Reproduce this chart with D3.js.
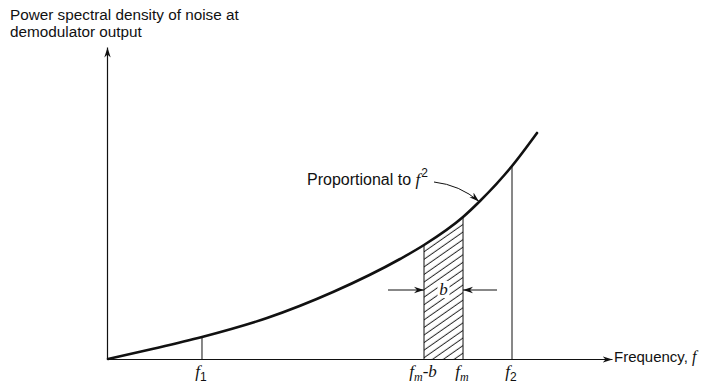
<!DOCTYPE html>
<html>
<head>
<meta charset="utf-8">
<script src="https://cdn.jsdelivr.net/npm/d3@7/dist/d3.min.js"></script>
<style>
  html, body { margin: 0; padding: 0; background: #fff; }
  svg { display: block; }
  .sans { font-family: "Liberation Sans", Arial, Helvetica, sans-serif; fill: #111; font-style: normal; }
  .math { font-family: "Liberation Serif", "Times New Roman", serif; font-style: italic; fill: #111; }
</style>
</head>
<body>
<svg id="chart" width="705" height="385"></svg>
<script>
// Noise power spectral density at the demodulator output (arbitrary units)
const freq = [0, 8.33, 18.65, 31.55, 44.64, 57.94, 62.7, 70.44, 73.81, 80.16, 85.12];
const psd  = [0, 3.04, 7.05, 13.14, 21.47, 32.05, 36.54, 45.51, 50.64, 61.86, 72.44];

// Marked frequencies on the horizontal axis
const markFreqs = [18.65, 62.7, 70.44, 80.16];
const markBase  = ["f", "f", "f", "f"];
const markSub   = ["1", "m", "m", "2"];
const markTail  = ["", "-b", "", ""];

// Shaded band from fm-b to fm
const bandStart = 62.7;
const bandEnd = 70.44;
const bandLabel = "b";

const yTitle = ["Power spectral density of noise at", "demodulator output"];
const xTitle = "Frequency, ";
const curveNote = "Proportional to ";
const notePoint = 73.81;

const svg = d3.select("#chart");
const ink = "#111";

const x = d3.scaleLinear().domain([0, 100]).range([108, 612]);
const y = d3.scaleLinear().domain([0, 100]).range([359, 47]);

const pts = freq.map((f, i) => ({ f, p: psd[i] }));
const psdAt = f => pts.find(d => d.f === f).p;

// Arrowhead marker
const defs = svg.append("defs");
defs.append("marker")
  .attr("id", "arrow")
  .attr("viewBox", "-10 -4 10 8")
  .attr("refX", 0).attr("refY", 0)
  .attr("markerWidth", 10).attr("markerHeight", 8)
  .attr("markerUnits", "userSpaceOnUse")
  .attr("orient", "auto")
  .append("path").attr("d", "M0,0L-10,-3.2L-7,0L-10,3.2Z").attr("fill", ink);

// Diagonal hatching
defs.append("pattern")
  .attr("id", "hatch")
  .attr("patternUnits", "userSpaceOnUse")
  .attr("width", 6.2).attr("height", 6.2)
  .attr("patternTransform", "rotate(-35)")
  .append("line")
  .attr("x1", 0).attr("y1", 3).attr("x2", 6.2).attr("y2", 3)
  .attr("stroke", ink).attr("stroke-width", 0.9);

defs.append("clipPath").attr("id", "band")
  .append("rect")
  .attr("x", x(bandStart)).attr("y", 0)
  .attr("width", x(bandEnd) - x(bandStart)).attr("height", 385);

const curve = d3.curveMonotoneX;

// Hatched band under the curve
svg.append("path")
  .datum(pts)
  .attr("clip-path", "url(#band)")
  .attr("fill", "url(#hatch)")
  .attr("d", d3.area().x(d => x(d.f)).y0(y(0)).y1(d => y(d.p)).curve(curve));

// Axes
const xAxis = svg.append("g")
  .attr("transform", `translate(0,${y(0)})`)
  .call(d3.axisBottom(x).tickValues([]).tickSizeOuter(0));
xAxis.select(".domain").attr("stroke", ink).attr("stroke-width", 1.2).attr("marker-end", "url(#arrow)");

const yAxis = svg.append("g")
  .attr("transform", `translate(${x(0) - 1},0)`)
  .call(d3.axisLeft(y).tickValues([]).tickSizeOuter(0));
yAxis.select(".domain").attr("stroke", ink).attr("stroke-width", 1.2).attr("marker-end", "url(#arrow)");

// Vertical lines at marked frequencies
svg.append("g").selectAll("line")
  .data(markFreqs)
  .join("line")
  .attr("x1", d => x(d)).attr("x2", d => x(d))
  .attr("y1", y(0)).attr("y2", d => y(psdAt(d)))
  .attr("stroke", ink).attr("stroke-width", 1);

// PSD curve
svg.append("path")
  .datum(pts)
  .attr("fill", "none")
  .attr("stroke", ink)
  .attr("stroke-width", 2.6)
  .attr("stroke-linecap", "round")
  .attr("d", d3.line().x(d => x(d.f)).y(d => y(d.p)).curve(curve));

// Frequency labels
const lab = svg.append("g").selectAll("text")
  .data(markFreqs)
  .join("text")
  .attr("class", "math")
  .attr("font-size", 17)
  .attr("x", d => x(d) - 1)
  .attr("y", 377)
  .attr("text-anchor", "middle");
lab.append("tspan").text((d, i) => markBase[i]);
lab.append("tspan")
  .attr("dy", 4).attr("font-size", 12)
  .attr("class", (d, i) => /\d/.test(markSub[i]) ? "sans" : "math")
  .text((d, i) => markSub[i]);
lab.append("tspan")
  .attr("dy", -4)
  .text((d, i) => markTail[i]);

// Band width indicator
const by = 290;
svg.append("line")
  .attr("x1", x(bandStart) - 36).attr("x2", x(bandStart))
  .attr("y1", by).attr("y2", by)
  .attr("stroke", ink).attr("stroke-width", 1)
  .attr("marker-end", "url(#arrow)");
svg.append("line")
  .attr("x1", x(bandEnd) + 34).attr("x2", x(bandEnd))
  .attr("y1", by).attr("y2", by)
  .attr("stroke", ink).attr("stroke-width", 1)
  .attr("marker-end", "url(#arrow)");
const bx = (x(bandStart) + x(bandEnd)) / 2;
svg.append("rect")
  .attr("x", bx - 6).attr("y", by - 9)
  .attr("width", 12).attr("height", 17)
  .attr("fill", "#fff");
svg.append("text")
  .attr("class", "math")
  .attr("font-size", 17)
  .attr("x", bx).attr("y", by + 5)
  .attr("text-anchor", "middle")
  .text(bandLabel);

// Axis titles
svg.append("text")
  .attr("class", "sans")
  .attr("font-size", 15.3)
  .selectAll("tspan")
  .data(yTitle)
  .join("tspan")
  .attr("x", 10)
  .attr("y", (d, i) => 20 + i * 17)
  .text(d => d);

const xt = svg.append("text")
  .attr("class", "sans")
  .attr("font-size", 15)
  .attr("x", 614).attr("y", 362);
xt.append("tspan").text(xTitle);
xt.append("tspan").attr("class", "math").attr("font-size", 16).text("f");

// Curve annotation
const note = svg.append("text")
  .attr("class", "sans")
  .attr("font-size", 16)
  .attr("x", 307).attr("y", 185);
note.append("tspan").text(curveNote);
note.append("tspan").attr("class", "math").attr("font-size", 17).text("f");
note.append("tspan").attr("class", "sans").attr("font-size", 12).attr("dy", -8).attr("dx", 1).text("2");

const tip = [x(notePoint), y(psdAt(notePoint))];
svg.append("path")
  .attr("d", `M434,182 Q${tip[0] - 20},${tip[1] - 16} ${tip[0] - 1},${tip[1] + 0.5}`)
  .attr("fill", "none")
  .attr("stroke", ink).attr("stroke-width", 1)
  .attr("marker-end", "url(#arrow)");
</script>
</body>
</html>
